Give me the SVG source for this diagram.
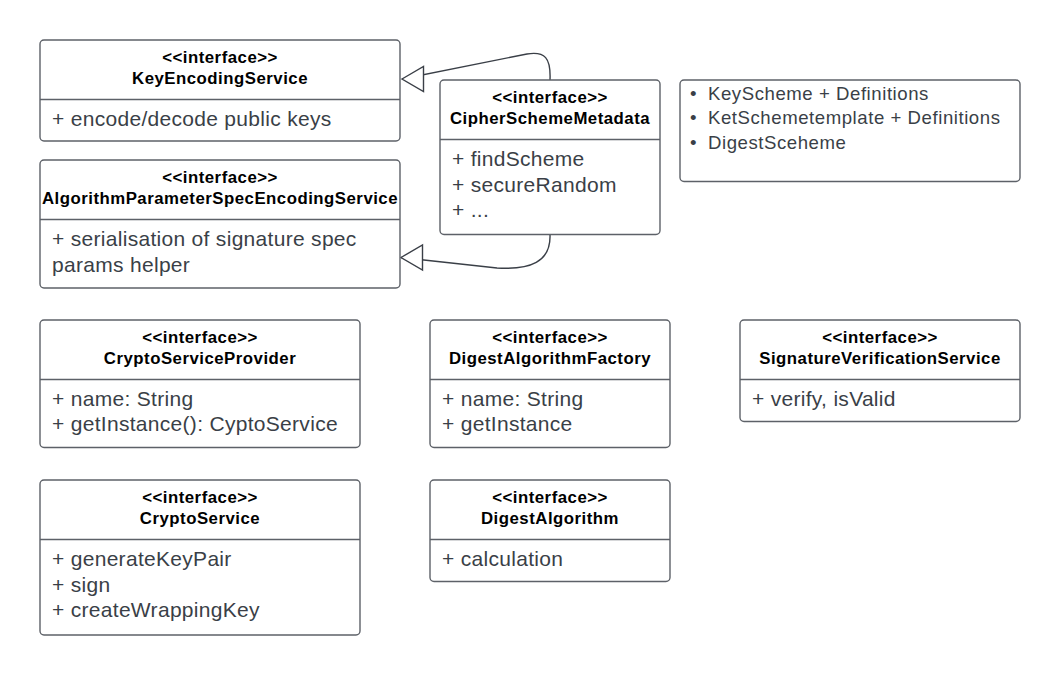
<svg xmlns="http://www.w3.org/2000/svg" width="1060" height="675" viewBox="0 0 1060 675">
<defs>
<style>
.box{fill:#fff;stroke:#5d6168;stroke-width:1.4}
.div{stroke:#5d6168;stroke-width:1.4}
.t{font-family:"Liberation Sans",Arial,sans-serif;font-weight:bold;font-size:16.8px;letter-spacing:0.5px;fill:#000;text-anchor:middle}
.m{font-family:"Liberation Sans",Arial,sans-serif;font-size:21px;letter-spacing:0.3px;fill:#3a3f47}
.n{font-family:"Liberation Sans",Arial,sans-serif;font-size:18.6px;letter-spacing:0.55px;fill:#3a3f47}
.c{fill:none;stroke:#3a3f47;stroke-width:1.4}
</style>
<marker id="tri" markerUnits="userSpaceOnUse" markerWidth="30" markerHeight="30" refX="0" refY="0" orient="0" viewBox="-2 -15 26 30" overflow="visible">
<path d="M0,0 L21.5,-12.5 L21.5,12.5 Z" fill="#fff" stroke="#3a3f47" stroke-width="1.4"/>
</marker>
</defs>
<rect width="1060" height="675" fill="#fff"/>

<g id="connectors">
<path class="c" d="M550,80 C551,58 545,51 527,54 L402,79" marker-end="url(#tri)"/>
<path class="c" d="M550,235 C551,262 530,270 497,268 L401,257.5" marker-end="url(#tri)"/>
</g>

<g id="KeyEncodingService">
<rect class="box" x="40" y="40" width="360" height="101" rx="4"/>
<line class="div" x1="40" y1="99.5" x2="400" y2="99.5"/>
<text class="t" x="220" y="62.5">&lt;&lt;interface&gt;&gt;</text>
<text class="t" x="220" y="83.5">KeyEncodingService</text>
<text class="m" x="52" y="126">+ encode/decode public keys</text>
</g>

<g id="AlgorithmParameterSpecEncodingService">
<rect class="box" x="40" y="160" width="360" height="128" rx="4"/>
<line class="div" x1="40" y1="219.5" x2="400" y2="219.5"/>
<text class="t" x="220" y="182.5">&lt;&lt;interface&gt;&gt;</text>
<text class="t" x="220" y="203.5">AlgorithmParameterSpecEncodingService</text>
<text class="m" x="52" y="246">+ serialisation of signature spec</text>
<text class="m" x="52" y="271.5">params helper</text>
</g>

<g id="CipherSchemeMetadata">
<rect class="box" x="440" y="80" width="220" height="154.5" rx="4"/>
<line class="div" x1="440" y1="139.5" x2="660" y2="139.5"/>
<text class="t" x="550" y="102.5">&lt;&lt;interface&gt;&gt;</text>
<text class="t" x="550" y="123.5">CipherSchemeMetadata</text>
<text class="m" x="452" y="166">+ findScheme</text>
<text class="m" x="452" y="191.5">+ secureRandom</text>
<text class="m" x="452" y="217">+ ...</text>
</g>

<g id="SchemeNotes">
<rect class="box" x="680" y="80" width="340" height="101.5" rx="4"/>
<text class="n" x="690" y="100">•</text>
<text class="n" x="708" y="100">KeyScheme + Definitions</text>
<text class="n" x="690" y="124.3">•</text>
<text class="n" x="708" y="124.3">KetSchemetemplate + Definitions</text>
<text class="n" x="690" y="148.5">•</text>
<text class="n" x="708" y="148.5">DigestSceheme</text>
</g>

<g id="CryptoServiceProvider">
<rect class="box" x="40" y="320" width="320" height="127.5" rx="4"/>
<line class="div" x1="40" y1="379.5" x2="360" y2="379.5"/>
<text class="t" x="200" y="342.5">&lt;&lt;interface&gt;&gt;</text>
<text class="t" x="200" y="363.5">CryptoServiceProvider</text>
<text class="m" x="52" y="406">+ name: String</text>
<text class="m" x="52" y="431">+ getInstance(): CyptoService</text>
</g>

<g id="DigestAlgorithmFactory">
<rect class="box" x="430" y="320" width="240" height="127.5" rx="4"/>
<line class="div" x1="430" y1="379.5" x2="670" y2="379.5"/>
<text class="t" x="550" y="342.5">&lt;&lt;interface&gt;&gt;</text>
<text class="t" x="550" y="363.5">DigestAlgorithmFactory</text>
<text class="m" x="442" y="406">+ name: String</text>
<text class="m" x="442" y="431">+ getInstance</text>
</g>

<g id="SignatureVerificationService">
<rect class="box" x="740" y="320" width="280" height="101.5" rx="4"/>
<line class="div" x1="740" y1="379.5" x2="1020" y2="379.5"/>
<text class="t" x="880" y="342.5">&lt;&lt;interface&gt;&gt;</text>
<text class="t" x="880" y="363.5">SignatureVerificationService</text>
<text class="m" x="752" y="406">+ verify, isValid</text>
</g>

<g id="CryptoService">
<rect class="box" x="40" y="480" width="320" height="155" rx="4"/>
<line class="div" x1="40" y1="539.5" x2="360" y2="539.5"/>
<text class="t" x="200" y="502.5">&lt;&lt;interface&gt;&gt;</text>
<text class="t" x="200" y="523.5">CryptoService</text>
<text class="m" x="52" y="566">+ generateKeyPair</text>
<text class="m" x="52" y="591.5">+ sign</text>
<text class="m" x="52" y="617">+ createWrappingKey</text>
</g>

<g id="DigestAlgorithm">
<rect class="box" x="430" y="480" width="240" height="101.5" rx="4"/>
<line class="div" x1="430" y1="539.5" x2="670" y2="539.5"/>
<text class="t" x="550" y="502.5">&lt;&lt;interface&gt;&gt;</text>
<text class="t" x="550" y="523.5">DigestAlgorithm</text>
<text class="m" x="442" y="566">+ calculation</text>
</g>
</svg>
